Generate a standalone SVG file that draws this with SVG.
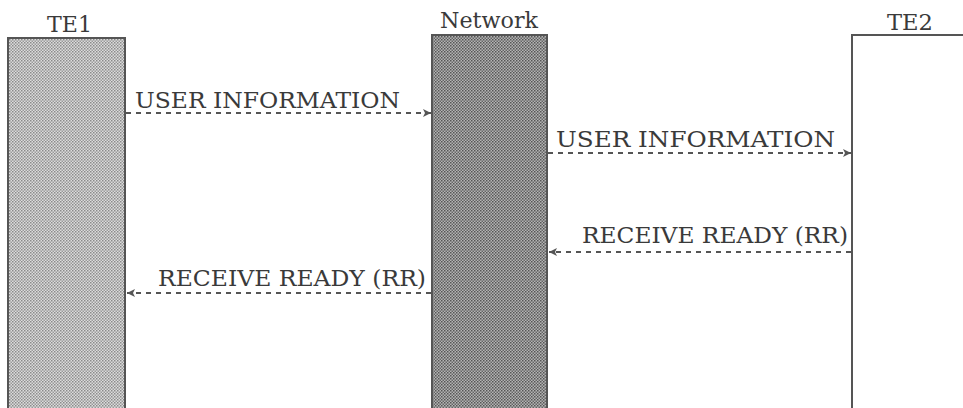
<svg xmlns="http://www.w3.org/2000/svg" width="963" height="408" viewBox="0 0 963 408">
<defs>
<pattern id="dotL" width="3" height="3" patternUnits="userSpaceOnUse">
<rect width="3" height="3" fill="#dcdcdc"/>
<rect width="1.5" height="1.5" fill="#8a8a8a"/>
<rect x="1.5" y="1.5" width="1.5" height="1.5" fill="#9a9a9a"/>
</pattern>
<pattern id="dotD" width="3" height="3" patternUnits="userSpaceOnUse">
<rect width="3" height="3" fill="#b4b4b4"/>
<rect width="1.5" height="1.5" fill="#555"/>
<rect x="1.5" y="1.5" width="1.5" height="1.5" fill="#666"/>
</pattern>
<marker id="ah" markerWidth="10" markerHeight="10" refX="9" refY="5" orient="auto" markerUnits="userSpaceOnUse">
<path d="M1,1 L9,5 L1,9 L3,5 Z" fill="#555"/>
</marker>
</defs>
<style>
.lbl{font-family:"DejaVu Serif","Liberation Serif",serif;fill:#3a3a3a;}
.box{stroke:#555;stroke-width:2;}
.conn{stroke:#555;stroke-width:1.8;stroke-dasharray:5,5;fill:none;marker-end:url(#ah);}
</style>
<g id="te1">
<rect class="box" x="8" y="38" width="117" height="372" fill="url(#dotL)"/>
<text class="lbl" x="47" y="32" font-size="22" textLength="45" lengthAdjust="spacingAndGlyphs">TE1</text>
</g>
<g id="network">
<rect class="box" x="432" y="35" width="115" height="375" fill="url(#dotD)"/>
<text class="lbl" x="440" y="28" font-size="22" textLength="98" lengthAdjust="spacingAndGlyphs">Network</text>
</g>
<g id="te2">
<rect class="box" x="852" y="35" width="120" height="375" fill="#fff"/>
<text class="lbl" x="887" y="30" font-size="22" textLength="46" lengthAdjust="spacingAndGlyphs">TE2</text>
</g>
<g id="connectors">
<line class="conn" x1="126" y1="113" x2="431" y2="113"/>
<line class="conn" x1="548" y1="153" x2="851" y2="153"/>
<line class="conn" x1="851" y1="252" x2="549" y2="252"/>
<line class="conn" x1="431" y1="293" x2="127" y2="293"/>
<text class="lbl" x="135" y="108" font-size="23" textLength="265" lengthAdjust="spacingAndGlyphs">USER INFORMATION</text>
<text class="lbl" x="556" y="147" font-size="23" textLength="279" lengthAdjust="spacingAndGlyphs">USER INFORMATION</text>
<text class="lbl" x="582" y="243" font-size="23" textLength="266" lengthAdjust="spacingAndGlyphs">RECEIVE READY (RR)</text>
<text class="lbl" x="158" y="286" font-size="23" textLength="268" lengthAdjust="spacingAndGlyphs">RECEIVE READY (RR)</text>
</g>
</svg>
